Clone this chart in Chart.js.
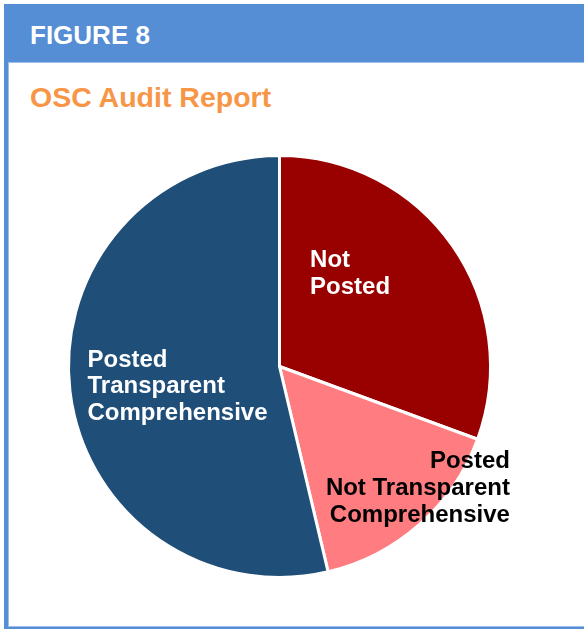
<!DOCTYPE html>
<html>
<head>
<meta charset="utf-8">
<script src="https://cdn.jsdelivr.net/npm/chart.js@4"></script>
<style>
  html, body { margin: 0; padding: 0; background: #fff; }
  body { width: 584px; height: 629px; overflow: hidden; position: relative; font-family: "Liberation Sans", Arial, sans-serif; }
  .frame {
    position: absolute; left: 4px; top: 4px; width: 600px; height: 619px;
    border-left: 4px solid #558ed5; border-top: 4px solid #558ed5; border-bottom: 3px solid #558ed5;
    box-sizing: content-box;
  }
  .inner { position: absolute; left: 0; top: 0; right: 0; bottom: 0; border: 1px solid #9dc0e8; }
  .header { position: absolute; left: 0; top: 0; right: 0; height: 54px; background: #558ed5; border-bottom: 1px solid #9dc0e8; }
  .fig { position: absolute; left: 30px; top: 20px; color: #fff; font-weight: bold; font-size: 26px; line-height: 30px; }
  .title { position: absolute; left: 30px; top: 80px; color: #f79646; font-weight: bold; font-size: 28.5px; line-height: 34px; }
  #chart-osc { position: absolute; left: 0; top: 0; }
</style>
</head>
<body>
<div class="frame"><div class="inner"></div><div class="header"></div></div>
<div class="fig">FIGURE 8</div>
<div class="title">OSC Audit Report</div>
<canvas id="chart-osc" width="584" height="629"></canvas>
<script>
const categories = ['Not Posted', 'Posted Not Transparent Comprehensive', 'Posted Transparent Comprehensive']
const shares = [30.6, 15.7, 53.7]
const sliceColors = ['#990000', '#ff7c80', '#1f4e78']

// label text per slice, with text colour, alignment and offset (in radii from the centre)
const sliceLabels = [
  { lines: ['Not', 'Posted'], color: '#fff', align: 'left', dx: 0.145, dy: -0.47 },
  { lines: ['Posted', 'Not Transparent', 'Comprehensive'], color: '#000', align: 'right', dx: 1.092, dy: 0.483 },
  { lines: ['Posted', 'Transparent', 'Comprehensive'], color: '#fff', align: 'left', dx: -0.91, dy: 0.0 },
]

const sliceLabelPlugin = {
  id: 'sliceLabels',
  afterDatasetsDraw (chart) {
    const ctx = chart.ctx
    const arcs = chart.getDatasetMeta(0).data
    ctx.save()
    ctx.font = 'bold 24px "Liberation Sans", Arial, sans-serif'
    ctx.textBaseline = 'alphabetic'
    arcs.forEach((arc, i) => {
      const lab = sliceLabels[i]
      const r = arc.outerRadius
      ctx.fillStyle = lab.color
      ctx.textAlign = lab.align
      lab.lines.forEach((line, j) => {
        ctx.fillText(line, arc.x + lab.dx * r, arc.y + lab.dy * r + j * 26.7)
      })
    })
    ctx.restore()
  },
}

new Chart(document.getElementById('chart-osc').getContext('2d'), {
  type: 'pie',
  data: {
    labels: categories,
    datasets: [{
      data: shares,
      backgroundColor: sliceColors,
      borderColor: '#fff',
      borderWidth: 3,
    }],
  },
  options: {
    responsive: false,
    maintainAspectRatio: false,
    animation: false,
    layout: { padding: { left: 67, right: 92, top: 154, bottom: 50 } },
    plugins: {
      legend: { display: false },
      tooltip: { enabled: false },
    },
  },
  plugins: [sliceLabelPlugin],
})
</script>
</body>
</html>
